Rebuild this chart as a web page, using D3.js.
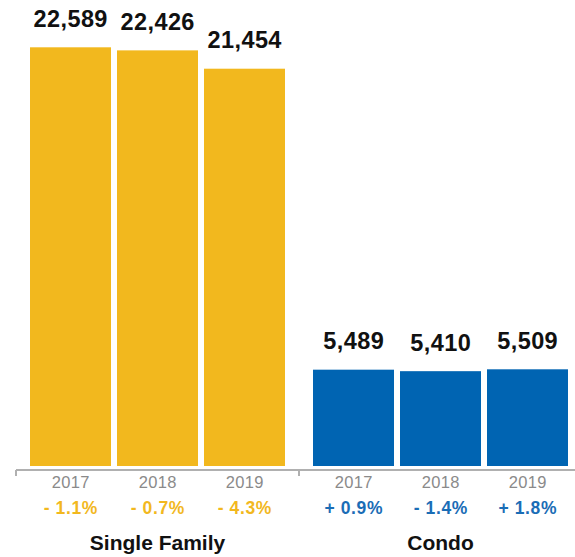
<!DOCTYPE html>
<html>
<head>
<meta charset="utf-8">
<script src="https://cdn.jsdelivr.net/npm/d3@7"></script>
<style>
  html, body { margin: 0; padding: 0; background: #fff; }
  svg { display: block; font-family: "Liberation Sans", Arial, Helvetica, sans-serif; }
</style>
</head>
<body>
<svg id="chart" width="575" height="557"></svg>
<script>
// Home sales by property type, 2017–2019
const groups = ["Single Family", "Condo"];
const years = ["2017", "2018", "2019"];
const singleFamily = [22589, 22426, 21454];
const condo = [5489, 5410, 5509];
const singleFamilyChange = ["- 1.1%", "- 0.7%", "- 4.3%"];
const condoChange = ["+ 0.9%", "- 1.4%", "+ 1.8%"];
const groupColors = ["#F2B81E", "#0064B2"];
const changeColors = ["#F2B81E", "#1A6DB6"];

const rows = groups.map((g, gi) => ({
  group: g,
  color: groupColors[gi],
  changeColor: changeColors[gi],
  values: (gi === 0 ? singleFamily : condo).map((v, i) => ({
    year: years[i],
    value: v,
    change: (gi === 0 ? singleFamilyChange : condoChange)[i]
  }))
}));

const svg = d3.select("#chart");
const baseY = 466;

const x0 = d3.scaleBand()
  .domain(groups)
  .range([16, 582])
  .paddingInner(0.099)
  .paddingOuter(0.0495);

const x1 = d3.scaleBand()
  .domain(years)
  .range([0, x0.bandwidth()])
  .paddingInner(0.069);

const y = d3.scaleLinear()
  .domain([380, 22589])
  .range([baseY, 47.3]);

const cx = d => x1(d.year) + x1.bandwidth() / 2;

const g = svg.selectAll("g.group")
  .data(rows)
  .join("g")
  .attr("class", "group")
  .attr("transform", d => `translate(${x0(d.group)},0)`);

g.selectAll("rect")
  .data(d => d.values.map(v => ({ ...v, color: d.color })))
  .join("rect")
  .attr("x", d => x1(d.year))
  .attr("width", x1.bandwidth())
  .attr("y", d => y(d.value))
  .attr("height", d => baseY - y(d.value))
  .attr("fill", d => d.color);

g.selectAll("text.value")
  .data(d => d.values)
  .join("text")
  .attr("class", "value")
  .attr("x", d => cx(d) + 0.2)
  .attr("y", d => y(d.value) - 20.5)
  .attr("text-anchor", "middle")
  .attr("font-size", 23.5)
  .attr("letter-spacing", 0.4)
  .attr("font-weight", "bold")
  .attr("fill", "#111")
  .text(d => d3.format(",")(d.value));

g.selectAll("text.year")
  .data(d => d.values)
  .join("text")
  .attr("class", "year")
  .attr("x", d => cx(d) + 0.2)
  .attr("y", 488)
  .attr("text-anchor", "middle")
  .attr("font-size", 16.5)
  .attr("letter-spacing", 0.3)
  .attr("fill", "#8a8a8a")
  .text(d => d.year);

g.selectAll("text.change")
  .data(d => d.values.map(v => ({ ...v, color: d.changeColor })))
  .join("text")
  .attr("class", "change")
  .attr("x", d => cx(d) + 0.3)
  .attr("y", 513.5)
  .attr("text-anchor", "middle")
  .attr("font-size", 17.5)
  .attr("letter-spacing", 0.6)
  .attr("font-weight", "bold")
  .attr("fill", d => d.color)
  .text(d => d.change);

g.append("text")
  .attr("class", "label")
  .attr("x", x0.bandwidth() / 2)
  .attr("y", 550)
  .attr("text-anchor", "middle")
  .attr("font-size", 21)
  .attr("font-weight", "bold")
  .attr("fill", "#111")
  .text(d => d.group);

// Bracket-style baseline with ticks at group boundaries
const axisY = 470;
const bounds = [x0.range()[0], ...groups.slice(1).map(gr => x0(gr) - x0.step() * x0.paddingInner() / 2), x0.range()[1]];
svg.append("line")
  .attr("x1", bounds[0]).attr("x2", bounds[bounds.length - 1])
  .attr("y1", axisY).attr("y2", axisY)
  .attr("stroke", "#b0b0b0").attr("stroke-width", 2);
svg.selectAll("line.tick")
  .data(bounds)
  .join("line")
  .attr("class", "tick")
  .attr("x1", d => d).attr("x2", d => d)
  .attr("y1", axisY).attr("y2", axisY + 6)
  .attr("stroke", "#b0b0b0").attr("stroke-width", 2);
</script>
</body>
</html>
